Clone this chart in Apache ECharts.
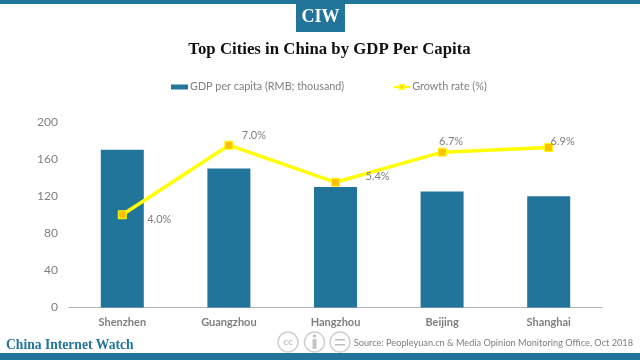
<!DOCTYPE html>
<html><head><meta charset="utf-8">
<style>html,body{margin:0;padding:0;background:#fff}#c{width:640px;height:360px}</style>
<script src="https://cdn.jsdelivr.net/npm/echarts@6/dist/echarts.min.js"></script>
</head><body><div id="c"></div>
<script>
const categories = ['Shenzhen','Guangzhou','Hangzhou','Beijing','Shanghai'];
const gdpPerCapita = [170,150,130,125,120];
const growthRate = [4.0,7.0,5.4,6.7,6.9];
const yTicks = [0,40,80,120,160,200];
const labelOffsets = [[37,5],[25,-10],[42,-6],[9,-11],[14,-6]];
const BLUE='#21759b', GREY='#7f7f7f', SERIF='"Liberation Serif","DejaVu Serif",serif';
const chart = echarts.init(document.getElementById('c'),null,{renderer:'canvas'});
chart.setOption({
  animation:false,
  backgroundColor:'#fff',
  textStyle:{fontFamily:'Lato'},
  grid:{left:69,right:38,top:122,bottom:52.5},
  legend:{
    left:166,top:76.5,itemGap:48,itemWidth:17,itemHeight:5,
    textStyle:{color:GREY,fontSize:10.8,fontFamily:'Lato',padding:[0,0,0,-3]},
    data:[{name:'GDP per capita (RMB; thousand)',icon:'rect'},{name:'Growth rate (%)'}]
  },
  xAxis:{type:'category',data:categories,
    axisLine:{lineStyle:{color:'#b0b0b0',width:1}},axisTick:{show:false},
    axisLabel:{color:GREY,fontSize:11,fontWeight:'bold',fontFamily:'Lato',margin:9}},
  yAxis:[
    {type:'value',min:yTicks[0],max:yTicks[yTicks.length-1],interval:40,
     axisLine:{show:false},axisTick:{show:false},splitLine:{show:false},
     axisLabel:{color:GREY,fontSize:12,fontFamily:'Lato',margin:11}},
    {type:'value',min:0,max:8,show:false,splitLine:{show:false}}
  ],
  series:[
    {name:'GDP per capita (RMB; thousand)',type:'bar',data:gdpPerCapita,barWidth:43,
     itemStyle:{color:BLUE}},
    {name:'Growth rate (%)',type:'line',yAxisIndex:1,
     data:growthRate.map((v,i)=>({value:v,label:{offset:labelOffsets[i]}})),
     symbol:'rect',symbolSize:8,
     lineStyle:{color:'#ffff00',width:3.5},
     itemStyle:{color:'#ffc000',borderColor:'#ffff00',borderWidth:1},
     label:{show:true,position:'inside',color:GREY,fontSize:11,fontFamily:'Lato',
       formatter:p=>p.value.toFixed(1)+'%'}}
  ],
  graphic:[
    {type:'rect',shape:{x:0,y:0,width:640,height:4},style:{fill:BLUE},silent:true},
    {type:'rect',shape:{x:296,y:0,width:49,height:32},style:{fill:BLUE},silent:true},
    {type:'text',x:320.5,y:17,style:{text:'CIW',fill:'#fff',font:'bold 18px '+SERIF,textAlign:'center',textVerticalAlign:'middle'}},
    {type:'text',x:329.5,y:50,style:{text:'Top Cities in China by GDP Per Capita',fill:'#111',font:'bold 16.8px '+SERIF,textAlign:'center',textVerticalAlign:'middle'}},
    {type:'rect',shape:{x:0,y:353,width:640,height:7},style:{fill:BLUE},silent:true},
    {type:'text',x:6,y:345,style:{text:'China Internet Watch',fill:BLUE,font:'bold 13.6px '+SERIF,textAlign:'left',textVerticalAlign:'middle'}},
    {type:'circle',shape:{cx:288,cy:342,r:10},style:{fill:'#fff',stroke:'#cfcfcf',lineWidth:1.5}},
    {type:'text',x:288,y:342,style:{text:'cc',fill:'#c4c4c4',font:'bold 10px Lato',textAlign:'center',textVerticalAlign:'middle'}},
    {type:'circle',shape:{cx:314.5,cy:342,r:10},style:{fill:'#fff',stroke:'#cfcfcf',lineWidth:1.5}},
    {type:'circle',shape:{cx:314.5,cy:336,r:1.8},style:{fill:'#c4c4c4'}},
    {type:'rect',shape:{x:312.5,y:339,width:4,height:10},style:{fill:'#c4c4c4'}},
    {type:'circle',shape:{cx:340,cy:342,r:10},style:{fill:'#fff',stroke:'#cfcfcf',lineWidth:1.5}},
    {type:'rect',shape:{x:335,y:339,width:10,height:1.5},style:{fill:'#bdbdbd'}},
    {type:'rect',shape:{x:335,y:344,width:10,height:1.5},style:{fill:'#bdbdbd'}},
    {type:'text',x:633,y:343,style:{text:'Source: Peopleyuan.cn & Media Opinion Monitoring Office, Oct 2018',fill:GREY,font:'9.2px Lato',textAlign:'right',textVerticalAlign:'middle'}}
  ]
});
</script></body></html>
